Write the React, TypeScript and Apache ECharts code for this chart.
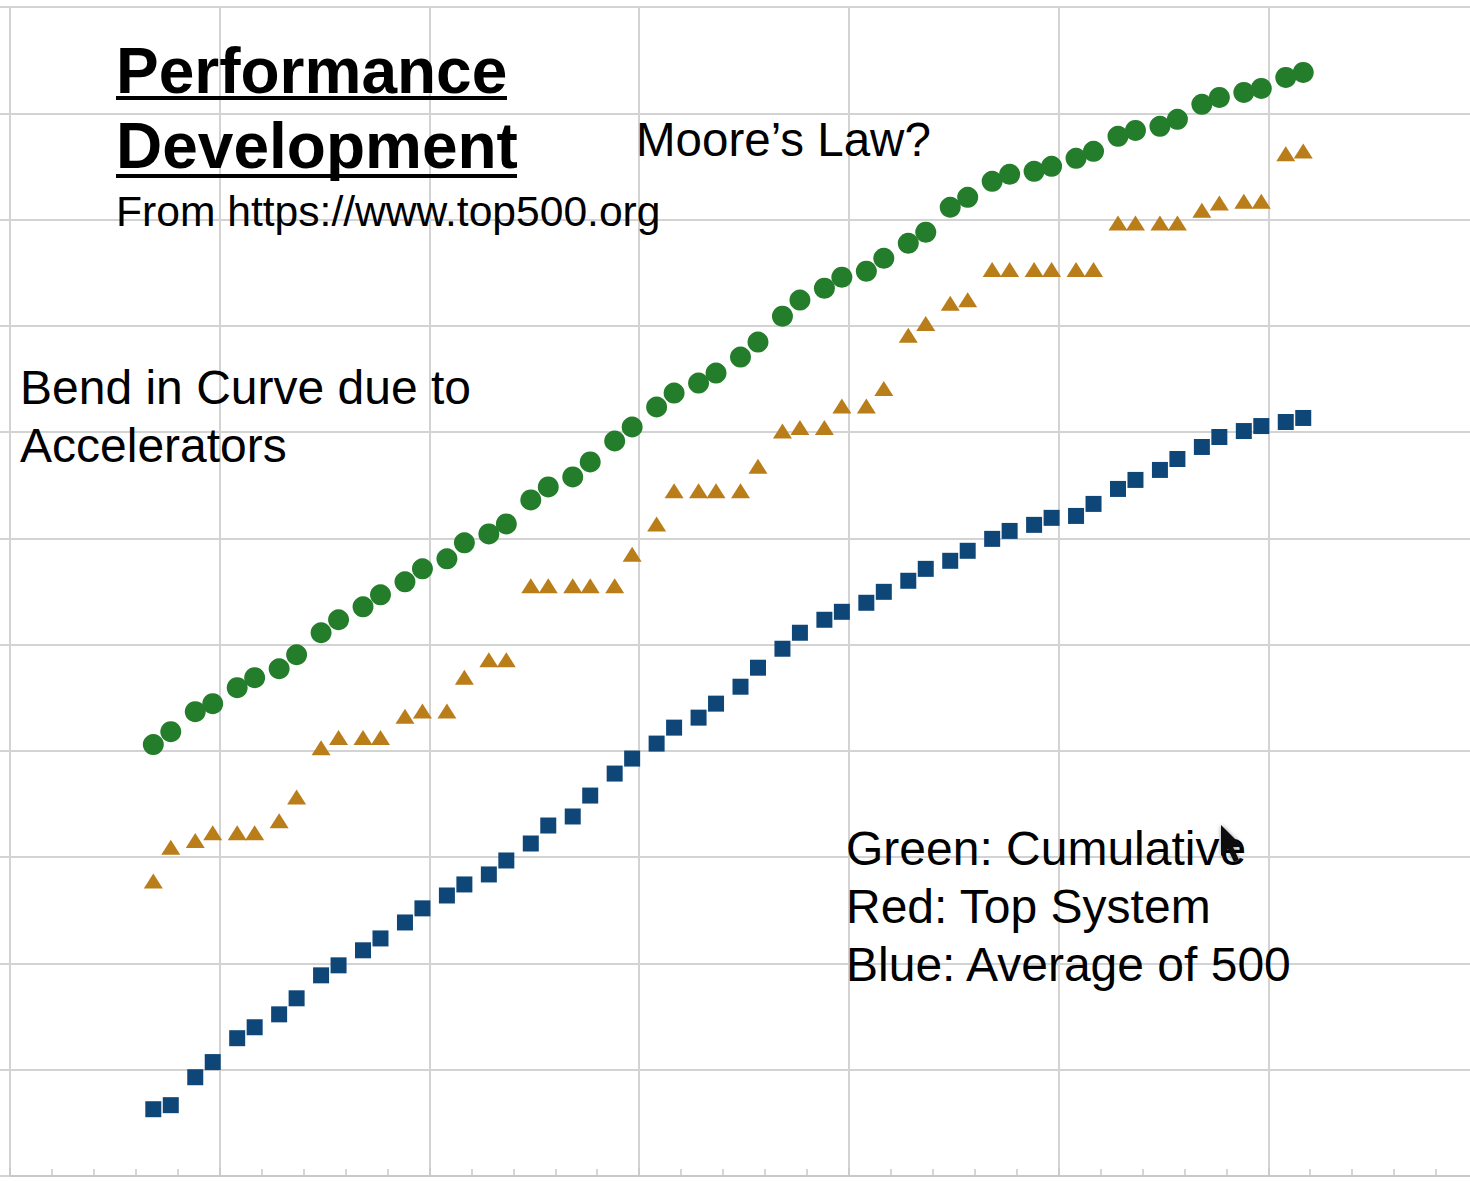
import React, { useEffect, useRef } from 'react';
import * as echarts from 'echarts';

// TOP500 lists (June / November)
const listDates = [
  '1993-06', '1993-11', '1994-06', '1994-11', '1995-06', '1995-11', '1996-06', '1996-11',
  '1997-06', '1997-11', '1998-06', '1998-11', '1999-06', '1999-11', '2000-06', '2000-11',
  '2001-06', '2001-11', '2002-06', '2002-11', '2003-06', '2003-11', '2004-06', '2004-11',
  '2005-06', '2005-11', '2006-06', '2006-11', '2007-06', '2007-11', '2008-06', '2008-11',
  '2009-06', '2009-11', '2010-06', '2010-11', '2011-06', '2011-11', '2012-06', '2012-11',
  '2013-06', '2013-11', '2014-06', '2014-11', '2015-06', '2015-11', '2016-06', '2016-11',
  '2017-06', '2017-11', '2018-06', '2018-11', '2019-06', '2019-11', '2020-06', '2020-11',
];

// Performance in GFlop/s (log scale)
const cumulativeGflops = [
  1146, 1518, 2340, 2785, 3936, 4887, 5933, 8035,
  12940, 17140, 22700, 29450, 39000, 51650, 64150, 90750,
  110200, 136800, 230100, 304800, 378400, 523600, 824000, 1117000,
  1722000, 2328000, 2891000, 3590000, 5082000, 7031000, 12330000, 17450000,
  22590000, 28700000, 32660000, 43250000, 59840000, 76030000, 130600000, 161800000,
  229100000, 266700000, 284400000, 316900000, 376700000, 438500000, 606700000, 690200000,
  753400000, 876500000, 1213000000, 1410000000, 1571000000, 1714000000, 2173000000, 2421000000,
];

const topSystemGflops = [
  59.7, 124, 143.4, 170, 170, 170, 220.4, 368.2,
  1068, 1338, 1338, 1338, 2121, 2379, 2379, 4938,
  7226, 7226, 35860, 35860, 35860, 35860, 35860, 70720,
  136800, 280600, 280600, 280600, 280600, 478200, 1026000, 1105000,
  1105000, 1759000, 1759000, 2566000, 8162000, 10510000, 16324750, 17590000,
  33862700, 33862700, 33862700, 33862700, 33862700, 33862700, 93014600, 93014600,
  93014600, 93014600, 122300000, 143500000, 148600000, 148600000, 415530000, 442010000,
];

const rank500Gflops = [
  0.425, 0.464, 0.85, 1.18, 1.98, 2.51, 3.32, 4.7,
  7.73, 9.6, 13.3, 17.2, 24.3, 33.0, 43.6, 55.4,
  68.8, 93.1, 134.5, 198.6, 241.5, 380, 612, 847,
  1172, 1656, 2056, 2785, 4018, 6067, 9150, 12940,
  17140, 20370, 24770, 31400, 39900, 51650, 61500, 76400,
  98900, 117500, 134000, 156000, 162600, 211000, 291800, 354800,
  440500, 558500, 724400, 899500, 1023000, 1140000, 1245000, 1358000,
];

const yearMin = 1990;
const yearMax = 2025;
const yearStep = 5;
// decades of GFlop/s covered by the axis: 10^-1 .. 10^10
const decadeMin = -1;
const decadeMax = 10;

const toYear = (d: string) => {
  const [y, m] = d.split('-').map(Number);
  return y + (m - 1) / 12;
};

const pairs = (vals: number[]) => listDates.map((d, i) => [toYear(d), vals[i]]);

const FONT = '"Liberation Sans", Arial, sans-serif';
const GRID = '#d3d3d3';

export default function App() {
  const ref = useRef<HTMLDivElement>(null);

  useEffect(() => {
    if (!ref.current) return;
    const chart = echarts.init(ref.current, undefined, { renderer: 'svg' });

    const txt = (text: string, x: number, y: number, size: number, bold = false) => ({
      type: 'text',
      z: 100,
      style: {
        text,
        x,
        y,
        font: `${bold ? 'bold ' : ''}${size}px ${FONT}`,
        fill: '#000',
        align: 'left',
        verticalAlign: 'middle',
        textAlign: 'left',
        textVerticalAlign: 'middle',
      },
    });

    chart.setOption({
      animation: false,
      backgroundColor: '#ffffff',
      grid: { left: 10, top: 7, width: 1468, height: 1169, containLabel: false },
      xAxis: {
        type: 'value',
        min: yearMin,
        max: yearMax,
        interval: yearStep,
        position: 'bottom',
        axisLine: { show: true, onZero: false, lineStyle: { color: '#c8c8c8', width: 2 } },
        axisTick: { show: true, inside: true, length: 8, lineStyle: { color: '#c8c8c8', width: 1.5 } },
        minorTick: { show: true, splitNumber: 5, length: 7, lineStyle: { color: '#c8c8c8', width: 1.5 } },
        axisLabel: { show: false },
        splitLine: { show: true, lineStyle: { color: GRID, width: 2 } },
      },
      yAxis: [
        {
          type: 'log',
          logBase: 10,
          min: Math.pow(10, decadeMin),
          max: Math.pow(10, decadeMax),
          axisLine: { show: false, onZero: false },
          axisTick: { show: false },
          axisLabel: { show: false },
          splitLine: { show: false },
        },
        {
          // decade grid lines of the log axis
          type: 'value',
          position: 'left',
          min: decadeMin,
          max: decadeMax,
          interval: 1,
          axisLine: { show: false, onZero: false },
          axisTick: { show: true, length: 10, lineStyle: { color: GRID, width: 2 } },
          axisLabel: { show: false },
          splitLine: { show: true, lineStyle: { color: GRID, width: 2 } },
        },
      ],
      series: [
        {
          name: 'Cumulative',
          type: 'scatter',
          yAxisIndex: 0,
          symbol: 'circle',
          symbolSize: 21,
          itemStyle: { color: '#237d2a', opacity: 1 },
          data: pairs(cumulativeGflops),
        },
        {
          name: 'Top System',
          type: 'scatter',
          yAxisIndex: 0,
          symbol: 'triangle',
          symbolSize: [19, 15],
          itemStyle: { color: '#b97d19', opacity: 1 },
          data: pairs(topSystemGflops),
        },
        {
          name: 'Rank 500',
          type: 'scatter',
          yAxisIndex: 0,
          symbol: 'rect',
          symbolSize: 16,
          itemStyle: { color: '#0f4678', opacity: 1 },
          data: pairs(rank500Gflops),
        },
      ],
      graphic: [
        txt('Performance', 116, 71, 64, true),
        { type: 'rect', z: 100, shape: { x: 116, y: 96, width: 391, height: 4 }, style: { fill: '#000' } },
        txt('Development', 116, 146, 64, true),
        { type: 'rect', z: 100, shape: { x: 116, y: 174, width: 401, height: 4 }, style: { fill: '#000' } },
        txt('From https://www.top500.org', 116, 211, 42.6),
        txt('Moore\u2019s Law?', 636, 139, 47.5),
        txt('Bend in Curve due to', 20, 387, 48),
        txt('Accelerators', 20, 445, 48),
        txt('Green: Cumulative', 846, 848, 48),
        txt('Red: Top System', 846, 906, 48),
        txt('Blue: Average of 500', 846, 964, 48),
        {
          type: 'polygon',
          z: 101,
          shape: {
            points: [
              [1221, 825], [1221, 856], [1228, 849], [1234, 862], [1239, 860], [1233, 847], [1243, 847],
            ],
          },
          style: { fill: '#111', shadowBlur: 4, shadowColor: 'rgba(0,0,0,0.4)' },
        },
      ],
    });

    return () => chart.dispose();
  }, []);

  return (
    <div
      ref={ref}
      style={{ position: 'fixed', left: 0, top: 0, width: 1480, height: 1182, background: '#fff' }}
    />
  );
}
